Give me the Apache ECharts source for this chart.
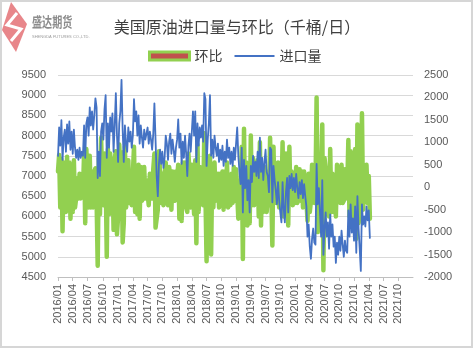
<!DOCTYPE html>
<html><head><meta charset="utf-8">
<script src="https://cdn.jsdelivr.net/npm/echarts@6/dist/echarts.min.js"></script>
<style>html,body{margin:0;padding:0;background:#fff}#c{width:474px;height:350px}</style>
</head><body><div id="c"></div>
<script>
const TITLE = '美国原油进口量与环比（千桶/日）';
const SERIES_NAMES = ['环比', '进口量'];
const FIRST_WEEK = [2016, 1, 1];   // weekly category axis start
const LAST_WEEK = [2021, 12, 31];  // weekly category axis end

// 进口量 (千桶/日), weekly, left axis
const imports2016 = [7480,8200,7750,8380,7400, 7950,8150,7600,8280, 7800,8350,7650,8100, 7550,8150,7700,7450,7650, 7400,7700,7450,7600, 7500,8250,7450,8300, 8450,8000,8700,8250,8600, 8150,8500,8920,8700, 6950,7600,7000,8100,8300, 7900,8650,9000,7450, 8300,7700,8450,8100, 8550,7600,8250,9050,8000];
const imports2017 = [7350,8300,8600,9380, 8150,7350,8250,7800, 7600,8200,7850,8100,7700, 8000,8900,8350,8600, 8000,8500,7800,8250, 7950,7700,8150,7900,8050, 8200,7800,8100,7900, 7650,8050,8800,7900, 7000,6500,7300,7650,7300, 7600,7200,7450,8000, 7800,7400,7850,8050, 7550,7900,7650,7350,7700];
const imports2018 = [7900,8400,7700,8050, 7300,7850,7450,8000, 7550,7000,7750,8050,7600, 8100,8600,8000,8600, 7350,8300,7750,8200, 7950,8250,7850,9050,8900, 7250,7900,8300,9000, 7500,7900,7450,8000,7700, 7500,7800,7350,7650, 7400,7750,7250,7600, 7350,7900,7450,7700,7300, 7600,7250,7700,7400];
const imports2019 = [7800,8200,7500,7100, 6800,7700,6100,7400, 6700,7250,6400,6900,6100, 7250,6850,7500,7100, 7350,7000,7600,6950,7950, 7100,7450,6900,7350, 7650,7100,7000,6600, 7700,7650,6350,7250,6900, 6650,6300,6850,6400, 6100,5850,6850,6200, 5850,6600,6950,6100,7000, 6700,7050,6650,6950];
const imports2020 = [6600,7050,6700,6450,6850, 6550,6900,6450,6800, 6500,6250,5500,5800, 5250,4950,5450,5700, 5350,5300,7300,6300,6700, 6100,5500,6900,5050, 5700,6100,5500,5850,5200, 6050,5500,5800,5250, 5500,4850,5350,5050, 5500,5150,5650,5300,5000, 5400,5150,5100,6150, 5500,6300,5600,5950];
const imports2021 = [5400,6250,5100,6500,5700, 5200,4650,6300,5800, 6000,5750,6250,5900, 6150,5450];

// 环比 (千桶/日), weekly change, right axis
const mom2016 = [350,720,-450,630,-980, 550,200,-550,680, -480,550,-700,450, -550,600,-450,-250,200, -250,300,-250,150, -100,750,-800,850, 150,-450,700,-450,350, -450,350,420,-220, -1750,650,-600,1100,200, -400,750,350,-1550, 850,-600,750,-350, 450,-950,650,800,-1050];
const mom2017 = [-650,950,300,780, -1230,-800,900,-450, -200,600,-350,250,-400, 300,900,-550,250, -600,500,-700,450, -300,-250,450,-250,150, 150,-400,300,-200, -250,400,750,-900, -900,-500,800,350,-350, 300,-400,250,550, -200,-400,450,200, -500,350,-250,-300,350];
const mom2018 = [200,500,-700,350, -750,550,-400,550, -450,-550,750,300,-450, 500,500,-600,600, -1250,950,-550,450, -250,300,-400,1200,-150, -1650,650,400,700, -1500,400,-450,550,-300, -200,300,-450,300, -250,350,-500,350, -250,550,-450,250,-400, 300,-350,450,-300];
const mom2019 = [400,400,-700,-400, -300,900,-1600,1300, -700,550,-850,500,-800, 1150,-400,650,-400, 250,-350,600,-650,1000, -850,350,-550,450, 300,-550,-100,-400, 1100,-50,-1300,900,-350, -250,-350,550,-450, -300,-250,1000,-650, -350,750,350,-850,900, -300,350,-400,300];
const mom2020 = [-350,450,-350,-250,400, -300,350,-450,350, -300,-250,-750,300, -550,-300,500,250, -350,-50,2000,-1000,400, -600,-600,1400,-1850, 650,400,-600,350,-650, 850,-550,300,-550, 250,-650,500,-300, 450,-350,500,-350,-300, 400,-250,-50,1050, -650,800,-700,350];
const mom2021 = [-550,850,-1150,1400,-800, -500,-550,1650,-500, 200,-250,500,-350, 250,-700];

const leftAxisRange = [4500, 9500, 500];
const rightAxisRange = [-2000, 2500, 500];

const imports = [].concat(imports2016, imports2017, imports2018, imports2019, imports2020, imports2021);
const momChange = [].concat(mom2016, mom2017, mom2018, mom2019, mom2020, mom2021);

const pad = n => String(n).padStart(2, '0');
const categories = [];
for (let t = Date.UTC(FIRST_WEEK[0], FIRST_WEEK[1]-1, FIRST_WEEK[2]); t <= Date.UTC(LAST_WEEK[0], LAST_WEEK[1]-1, LAST_WEEK[2]); t += 7*86400000) {
  const d = new Date(t);
  categories.push(d.getUTCFullYear() + '/' + pad(d.getUTCMonth()+1) + '/' + pad(d.getUTCDate()));
}
const quarterStart = (idx, val) => {
  const p = val.split('/');
  return (+p[1] - 1) % 3 === 0 && +p[2] <= 7;
};

const FONT = 'Liberation Sans';
const CJK = 'Noto Sans CJK SC';
const chart = echarts.init(document.getElementById('c'), null, {renderer: 'canvas'});
chart.setOption({
  animation: false,
  backgroundColor: '#fff',
  title: {
    text: TITLE, left: 'center', top: 14,
    textStyle: {fontSize: 16, fontWeight: 'normal', color: '#404040', fontFamily: CJK}
  },
  legend: {
    top: 44, left: 143, itemWidth: 40, itemHeight: 8, itemGap: 12,
    textStyle: {fontSize: 14, color: '#404040', fontFamily: CJK},
    data: [
      {name: SERIES_NAMES[0], icon: 'rect', itemStyle: {color: '#C0504D', borderColor: '#92D050', borderWidth: 3}},
      {name: SERIES_NAMES[1], icon: 'path://M0,0L0,0M0,3L40,3L40,5L0,5ZM40,8L40,8', itemStyle: {color: '#4472C4', borderWidth: 0}}
    ]
  },
  grid: {left: 58, right: 61, top: 75, bottom: 73},
  xAxis: {
    type: 'category', data: categories, boundaryGap: false,
    axisLine: {onZero: false, lineStyle: {color: '#BFBFBF'}},
    axisTick: {show: true, interval: quarterStart, length: 4, lineStyle: {color: '#BFBFBF'}},
    axisLabel: {interval: quarterStart, rotate: 90, margin: 7, fontSize: 11, color: '#595959', fontFamily: FONT,
      formatter: v => v.slice(0, 7)},
    splitLine: {show: false}
  },
  yAxis: [
    {type: 'value', min: leftAxisRange[0], max: leftAxisRange[1], interval: leftAxisRange[2],
     axisLine: {show: false}, axisTick: {show: false},
     axisLabel: {fontSize: 11, color: '#595959', fontFamily: FONT, margin: 12, formatter: v => String(v)},
     splitLine: {lineStyle: {color: '#D9D9D9', width: 1}}},
    {type: 'value', position: 'right', min: rightAxisRange[0], max: rightAxisRange[1], interval: rightAxisRange[2],
     axisLine: {show: false}, axisTick: {show: false},
     axisLabel: {fontSize: 11, color: '#595959', fontFamily: FONT, margin: 11, formatter: v => String(v)},
     splitLine: {show: false}}
  ],
  series: [
    {name: SERIES_NAMES[0], type: 'line', yAxisIndex: 1, data: momChange, symbol: 'none', z: 2,
     itemStyle: {color: '#92D050'},
     lineStyle: {color: '#92D050', width: 4.5, join: 'round', cap: 'round'}},
    {name: SERIES_NAMES[1], type: 'line', yAxisIndex: 0, data: imports, symbol: 'none', z: 3,
     itemStyle: {color: '#4472C4'},
     lineStyle: {color: '#4472C4', width: 1.8, join: 'round'}}
  ],
  graphic: [
    {type: 'rect', shape: {x: 1, y: 1, width: 471, height: 346}, style: {fill: 'none', stroke: '#D6D6D6', lineWidth: 2}, silent: true},
    {type: 'polygon', shape: {points: [[11,2],[27,24],[16,52],[2,30]]}, style: {fill: '#E8868A'}, silent: true},
    {type: 'polyline', shape: {points: [[17,13],[7,25],[21,29],[11,41]]}, style: {stroke: '#fff', lineWidth: 3, fill: 'none'}, silent: true},
    {type: 'text', x: 32, y: 15, scaleX: 0.72, style: {text: '盛达期货', fontSize: 14, fontWeight: 'bold', fill: '#8C8C8C', fontFamily: CJK}, silent: true},
    {type: 'text', x: 32, y: 35, style: {text: 'SHENGDA FUTURES CO.,LTD.', fontSize: 4, fill: '#9A9A9A', fontFamily: FONT}, silent: true}
  ]
});
</script></body></html>
